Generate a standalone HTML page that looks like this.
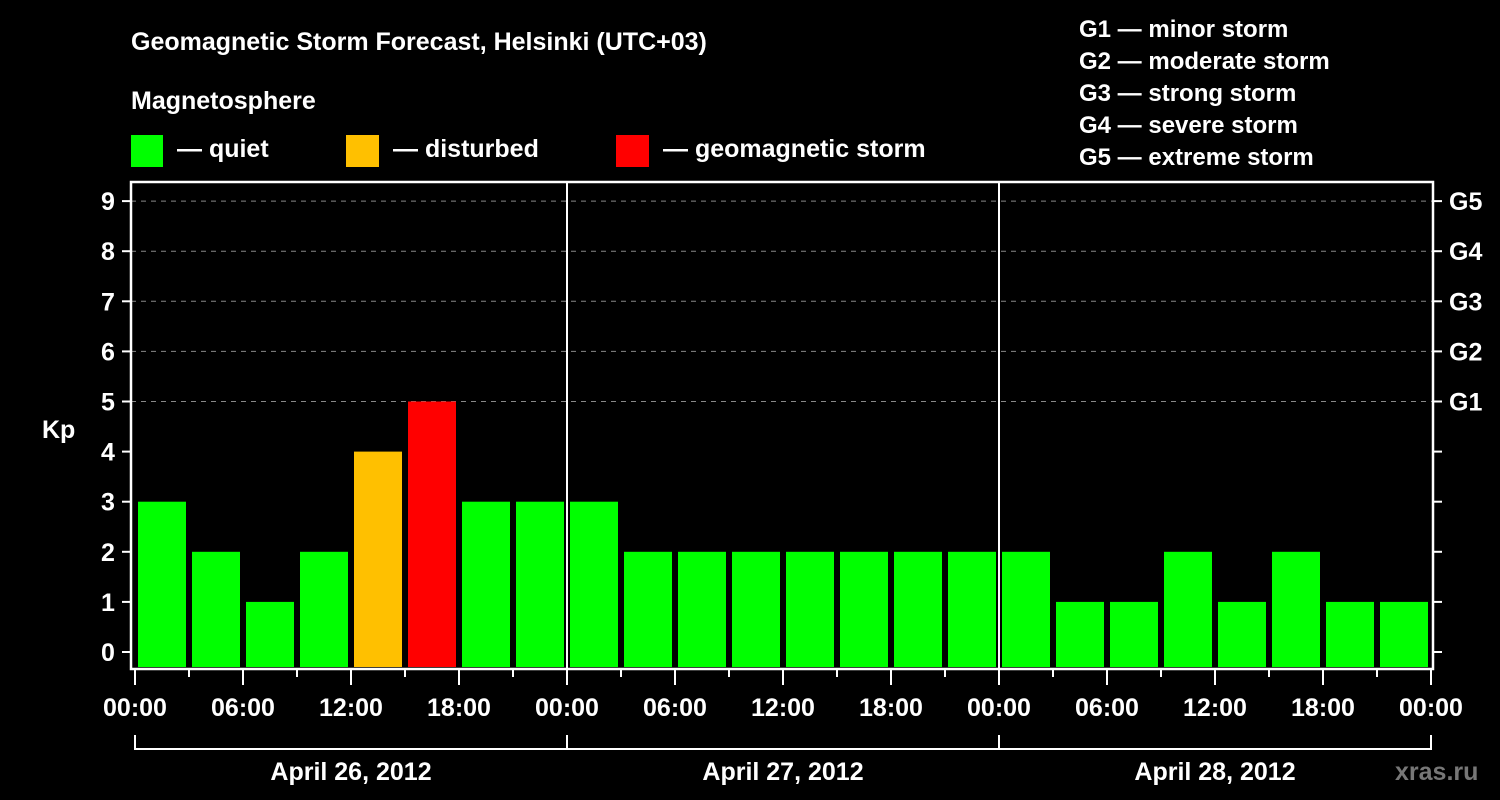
<!DOCTYPE html>
<html><head><meta charset="utf-8"><style>
html,body{margin:0;padding:0;background:#000;}
svg{display:block;font-family:"Liberation Sans",Arial,sans-serif;font-weight:bold;}
</style></head><body>
<svg id="chart" width="1500" height="800" viewBox="0 0 1500 800">
<rect width="1500" height="800" fill="#000"/>
<text x="131" y="50" fill="#fff" font-size="25">Geomagnetic Storm Forecast, Helsinki (UTC+03)</text>
<text x="131" y="109" fill="#fff" font-size="25">Magnetosphere</text>
<g><rect x="131" y="135" width="32" height="32" fill="#00ff00"/><text x="177" y="157" fill="#fff" font-size="25">— quiet</text></g>
<g><rect x="346" y="135" width="33" height="32" fill="#ffc000"/><text x="393" y="157" fill="#fff" font-size="25">— disturbed</text></g>
<g><rect x="616" y="135" width="33" height="32" fill="#ff0000"/><text x="663" y="157" fill="#fff" font-size="25">— geomagnetic storm</text></g>
<g fill="#fff" font-size="24">
<text x="1079" y="37">G1 — minor storm</text>
<text x="1079" y="69">G2 — moderate storm</text>
<text x="1079" y="101">G3 — strong storm</text>
<text x="1079" y="133">G4 — severe storm</text>
<text x="1079" y="165">G5 — extreme storm</text>
</g>
<text x="42" y="438" fill="#fff" font-size="25">Kp</text>
<g id="grid"></g>
<g id="bars"></g>
<g id="axes"></g>
<text x="1395" y="780" fill="#777" font-size="25">xras.ru</text>
</svg>
<script>
const kpValues=[3,2,1,2,4,5,3,3,3,2,2,2,2,2,2,2,2,1,1,2,1,2,1,1];
const yTicks=[0,1,2,3,4,5,6,7,8,9];
const gLabels=["G1","G2","G3","G4","G5"];
const gLevels=[5,6,7,8,9];
const timeLabels=["00:00","06:00","12:00","18:00"];
const dayLabels=["April 26, 2012","April 27, 2012","April 28, 2012"];
const NS="http://www.w3.org/2000/svg";
const X0=135,PXH=18,Y0=652,PXK=50.1,L=131,R=1433,T=182,B=669;
const xs=h=>X0+h*PXH, ys=k=>Y0-k*PXK;
function mk(tag,attrs,parent,text){const e=document.createElementNS(NS,tag);for(const k in attrs)e.setAttribute(k,attrs[k]);if(text!==undefined)e.textContent=text;parent.appendChild(e);return e;}
const grid=document.getElementById('grid'),bars=document.getElementById('bars'),axes=document.getElementById('axes');
gLevels.forEach((g,i)=>{
 const l=mk('line',{x1:L,x2:R,y1:ys(g),y2:ys(g),stroke:'#888','stroke-dasharray':'5,5','stroke-width':1},grid);
 
 
 const t=mk('text',{x:1449,y:ys(g)+9,fill:'#fff','font-size':25},axes,gLabels[i]);
 
 
});
kpValues.forEach((v,i)=>{
 const c=v>=5?'#ff0000':(v>=4?'#ffc000':'#00ff00');
 const r=mk('rect',{x:xs(i*3)+3,y:ys(v),width:48,height:667-ys(v),fill:c},bars);
 
 
});
mk('rect',{x:L,y:T,width:R-L,height:B-T,fill:'none',stroke:'#fff','stroke-width':2.5},axes);
[1,2].forEach(d=>{mk('line',{x1:xs(d*24),x2:xs(d*24),y1:T,y2:B,stroke:'#fff','stroke-width':2},axes);});
yTicks.forEach(k=>{
 mk('line',{x1:122,x2:L,y1:ys(k),y2:ys(k),stroke:'#fff','stroke-width':2},axes);
 mk('line',{x1:R,x2:1442,y1:ys(k),y2:ys(k),stroke:'#fff','stroke-width':2},axes);
 const t=mk('text',{x:108,y:ys(k)+9,fill:'#fff','font-size':25,'text-anchor':'middle'},axes,String(k));
 
 
});
for(let h=0;h<=72;h+=3){
 mk('line',{x1:xs(h),x2:xs(h),y1:B,y2:h%6?677:685,stroke:'#fff','stroke-width':2},axes);
 if(h%6===0){
  const lbl=timeLabels[(h/6)%4];
  const t=mk('text',{x:xs(h),y:716,fill:'#fff','font-size':25,'text-anchor':'middle'},axes,lbl);
  
  
 }
}
dayLabels.forEach((d,i)=>{
 const a=xs(i*24),b=xs(i*24+24);
 mk('path',{d:`M${a} 735V749H${b}V735`,fill:'none',stroke:'#fff','stroke-width':2},axes);
 const t=mk('text',{x:(a+b)/2,y:780,fill:'#fff','font-size':25,'text-anchor':'middle'},axes,d);
 
 
});
</script>
</body></html>
